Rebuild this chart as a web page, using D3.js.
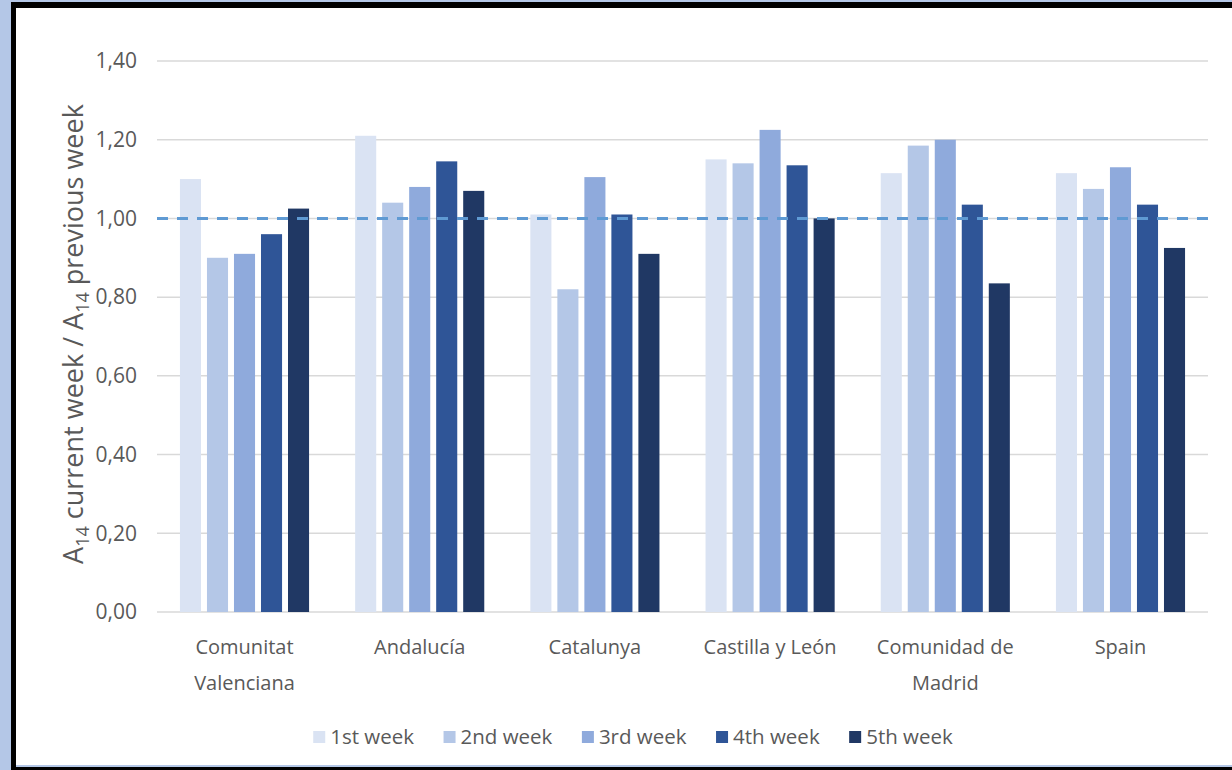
<!DOCTYPE html>
<html lang="en">
<head>
  <meta charset="UTF-8">
  <title>A14 ratio by region</title>
  <style>
    html, body { margin: 0; padding: 0; background: #b4c7e7; }
    svg { display: block; font-family: "Open Sans", sans-serif; }
    .grid line { stroke: #d9d9d9; stroke-width: 1.5; }
    .tick-label, .cat-label, .legend text, .y-title { fill: #595959; }
  </style>
</head>
<body>
<div id="chart"></div>
<script src="https://cdn.jsdelivr.net/npm/d3@7"></script>
<script>
  const categories = ["Comunitat Valenciana", "Andalucía", "Catalunya", "Castilla y León", "Comunidad de Madrid", "Spain"];
  const weeks = ["1st week", "2nd week", "3rd week", "4th week", "5th week"];
  const week1 = [1.10, 1.21, 1.01, 1.15, 1.115, 1.115];
  const week2 = [0.90, 1.04, 0.82, 1.14, 1.185, 1.075];
  const week3 = [0.91, 1.08, 1.105, 1.225, 1.20, 1.13];
  const week4 = [0.96, 1.145, 1.01, 1.135, 1.035, 1.035];
  const week5 = [1.025, 1.07, 0.91, 1.00, 0.835, 0.925];
  const yTicks = [0, 0.2, 0.4, 0.6, 0.8, 1.0, 1.2, 1.4];
  const refValue = 1.0;

  const colors = ["#dae3f3", "#b4c7e7", "#8faadc", "#2f5597", "#203864"];
  const series = [week1, week2, week3, week4, week5];

  (function () {
    const width = 1232, height = 770;
    const plotLeft = 157, plotRight = 1208, plotTop = 61, plotBottom = 612;

    const svg = d3.select("#chart").append("svg")
      .attr("width", width).attr("height", height);

    // frame
    svg.append("rect").attr("x", 11).attr("y", 2).attr("width", width - 11).attr("height", height - 2).attr("fill", "#000");
    svg.append("rect").attr("x", 16).attr("y", 8).attr("width", width - 16).attr("height", 757).attr("fill", "#fff");
    svg.append("rect").attr("x", 16).attr("y", 765).attr("width", width - 16).attr("height", 2).attr("fill", "#b4c7e7");

    const y = d3.scaleLinear().domain([0, 1.4]).range([plotBottom, plotTop]);
    const x0 = d3.scaleBand().domain(categories).range([plotLeft, plotRight]).paddingInner(0.263).paddingOuter(0.131);
    const x1 = d3.scaleBand().domain(weeks).range([0, x0.bandwidth()]).paddingInner(0.22);

    // gridlines
    svg.append("g").classed("grid", true)
      .selectAll("line").data(yTicks).enter().append("line")
      .attr("x1", plotLeft).attr("x2", plotRight)
      .attr("y1", d => y(d)).attr("y2", d => y(d));

    // y tick labels
    svg.append("g").selectAll("text").data(yTicks).enter().append("text")
      .classed("tick-label", true)
      .attr("x", 137).attr("y", d => y(d)).attr("dy", "0.35em")
      .attr("text-anchor", "end").attr("font-size", 21)
      .text(d => d.toFixed(2).replace(".", ","));

    // bars
    const groups = svg.append("g").selectAll("g").data(categories).enter().append("g")
      .attr("transform", d => `translate(${x0(d)},0)`);

    groups.selectAll("rect")
      .data((d, i) => weeks.map((w, k) => ({ week: w, value: series[k][i], k })))
      .enter().append("rect")
      .attr("x", d => x1(d.week))
      .attr("width", x1.bandwidth())
      .attr("y", d => y(d.value))
      .attr("height", d => y(0) - y(d.value))
      .attr("fill", d => colors[d.k]);

    // reference line at 1,00
    svg.append("line")
      .attr("x1", plotLeft).attr("x2", plotRight)
      .attr("y1", y(refValue)).attr("y2", y(refValue))
      .attr("stroke", "#5f9ad3").attr("stroke-width", 3)
      .attr("stroke-dasharray", "11,9");

    // category labels (wrapped to band width)
    const catG = svg.append("g");
    categories.forEach(c => {
      const cx = x0(c) + x0.bandwidth() / 2;
      const t = catG.append("text").classed("cat-label", true)
        .attr("text-anchor", "middle").attr("font-size", 20)
        .attr("x", cx).attr("y", 654);
      let line = [];
      let tspan = t.append("tspan").attr("x", cx).attr("dy", 0);
      c.split(" ").forEach(w => {
        line.push(w);
        tspan.text(line.join(" "));
        if (tspan.node().getComputedTextLength() > x0.step() - 10 && line.length > 1) {
          line.pop();
          tspan.text(line.join(" "));
          line = [w];
          tspan = t.append("tspan").attr("x", cx).attr("dy", 36).text(w);
        }
      });
    });

    // y axis title
    const yt = svg.append("text").classed("y-title", true)
      .attr("transform", "translate(83,334) rotate(-90)")
      .attr("text-anchor", "middle").attr("font-size", 27);
    yt.append("tspan").text("A");
    yt.append("tspan").attr("font-size", 18).attr("dy", 6).text("14");
    yt.append("tspan").attr("dy", -6).text(" current week / A");
    yt.append("tspan").attr("font-size", 18).attr("dy", 6).text("14");
    yt.append("tspan").attr("dy", -6).text(" previous week");

    // legend
    const legend = svg.append("g").classed("legend", true);
    const gap = 29.5;
    let lx = 0;
    weeks.forEach((w, k) => {
      const item = legend.append("g").attr("transform", `translate(${lx},0)`);
      item.append("rect").attr("x", 0).attr("y", -13).attr("width", 12).attr("height", 12).attr("fill", colors[k]);
      const t = item.append("text").attr("x", 17).attr("y", 0).attr("font-size", 20.5).text(w);
      lx += 17 + t.node().getComputedTextLength() + gap;
    });
    const legendW = lx - gap;
    legend.attr("transform", `translate(${633 - legendW / 2},744)`);
  })();
</script>
</body>
</html>
